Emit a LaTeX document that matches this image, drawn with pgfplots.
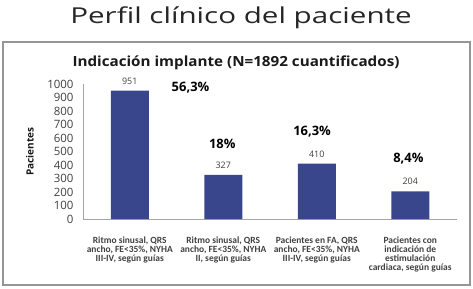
\documentclass[border=0pt]{standalone}
\usepackage{fontspec}
\setmainfont{Open Sans}
\newfontfamily\carl{Carlito}
\newfontfamily\titlefont[FakeStretch=1.35]{Open Sans}
\newfontfamily\subtitlefont[FakeStretch=1.09]{Open Sans}
\usepackage{pgfplots}
\pgfplotsset{compat=1.18}
\definecolor{barblue}{RGB}{58,70,140}
\definecolor{txtgray}{RGB}{64,64,64}
\definecolor{boxgray}{RGB}{150,150,150}
\begin{document}
\begin{tikzpicture}[x=1bp,y=1bp]
\useasboundingbox (0,0) rectangle (473,288);
\node[text=black!85, font=\titlefont\fontsize{22}{26}\selectfont] at (241,270) {Perfil clínico del paciente};
\draw[boxgray, line width=1.3bp] (3,3) rectangle (470,246);
\node[font=\subtitlefont\bfseries\fontsize{14}{17}\selectfont, text=black!90] at (236,225) {Indicación implante (N=1892 cuantificados)};
\begin{axis}[
  at={(83bp,69bp)}, anchor=south west,
  scale only axis, width=374bp, height=135bp,
  xmin=-0.5, xmax=3.5, ymin=0, ymax=1000,
  ytick={0,100,...,1000},
  xtick={0,1,2,3},
  xticklabels={{Ritmo sinusal, QRS\\ancho, FE<35\%, NYHA\\III-IV, según guías},
               {Ritmo sinusal, QRS\\ancho, FE<35\%, NYHA\\II, según guías},
               {Pacientes en FA, QRS\\ancho, FE<35\%, NYHA\\III-IV, según guías},
               {Pacientes con\\indicación de\\estimulación\\cardiaca, según guías}},
  xticklabel style={align=center, font=\carl\bfseries\fontsize{9.5}{9.3}\selectfont, text=txtgray, yshift=-14bp},
  yticklabel style={font=\fontsize{11.5}{14}\selectfont, text=txtgray, xshift=-6bp},
  /pgf/number format/assume math mode=true,
  /pgf/number format/1000 sep={},
  major tick length=0pt,
  axis x line*=bottom, axis y line*=left,
  axis line style={draw=black!35, line width=0.6bp},
  ylabel={Pacientes},
  ylabel style={at={(axis description cs:-0.142,0.5)}, anchor=center, font=\bfseries\fontsize{10}{12}\selectfont, text=black!90},
  ybar, bar width=38bp,
  nodes near coords,
  nodes near coords style={font=\fontsize{9}{11}\selectfont, text=txtgray, yshift=3bp},
  clip=false,
]
\addplot[fill=barblue, draw=none] coordinates {(0,951) (1,327) (2,410) (3,204)};
\node[font=\bfseries\fontsize{13}{16}\selectfont] at (axis cs:0.65,970) {56,3\%};
\node[font=\bfseries\fontsize{13}{16}\selectfont] at (axis cs:0.99,556) {18\%};
\node[font=\bfseries\fontsize{13}{16}\selectfont] at (axis cs:1.95,644) {16,3\%};
\node[font=\bfseries\fontsize{13}{16}\selectfont] at (axis cs:2.98,444) {8,4\%};
\end{axis}
\end{tikzpicture}
\end{document}
